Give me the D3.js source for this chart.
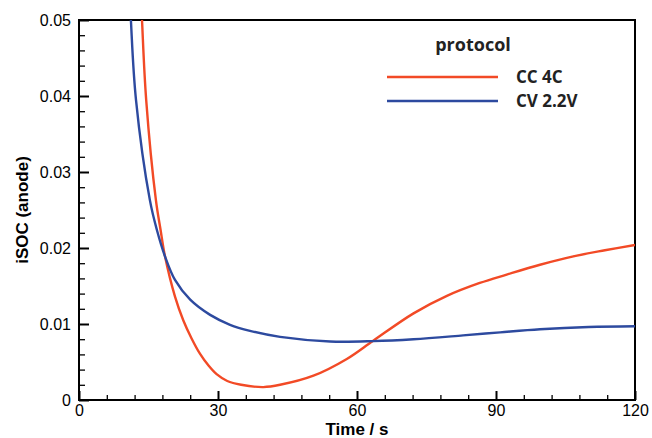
<!DOCTYPE html>
<html>
<head>
<meta charset="utf-8">
<script src="https://cdn.jsdelivr.net/npm/d3@7"></script>
<style>
  body { margin: 0; background: #fff; }
  text { font-family: "Liberation Sans", Arial, sans-serif; }
</style>
</head>
<body>
<div id="chart-area"></div>
<script>
// data
var seriesNames = ["CC 4C", "CV 2.2V"];
var ccTime = [12.8, 13.6, 14.5, 16.6, 17.6, 18.56, 20.72, 22.5, 24.3, 26.1, 28, 29.7, 32, 35, 39.8, 43.4, 50.6, 57.8, 63.5, 72.2, 79.4, 86.5, 92.3, 99.5, 106.7, 113.5, 120];
var ccValue = [0.062, 0.05, 0.0395, 0.0263, 0.0224, 0.0189, 0.0136, 0.0105, 0.0081, 0.0061, 0.0045, 0.0034, 0.0025, 0.002, 0.0017, 0.002, 0.0032, 0.0054, 0.0078, 0.0114, 0.0137, 0.0154, 0.0165, 0.0178, 0.0189, 0.0197, 0.0204];
var cvTime = [10.4, 11.2, 12.3, 15.3, 16.8, 18.56, 20.72, 24, 28.3, 32.6, 36.9, 43.4, 54.2, 63.5, 72.2, 82.9, 90.9, 99.5, 110, 120];
var cvValue = [0.062, 0.05, 0.0395, 0.0263, 0.0224, 0.0189, 0.0158, 0.0132, 0.0112, 0.0099, 0.0091, 0.0083, 0.0077, 0.00775, 0.008, 0.0085, 0.0089, 0.0093, 0.0096, 0.0097];
var xTicks = [0, 30, 60, 90, 120];
var yTicks = [0, 0.01, 0.02, 0.03, 0.04, 0.05];
var colors = ["#f24a26", "#2d4a9f"];

var margin = { left: 79, right: 17, top: 20, bottom: 38 };
var width = 652 - margin.left - margin.right,
    height = 438 - margin.top - margin.bottom;

var svg = d3.select("#chart-area").append("svg")
    .attr("width", 652)
    .attr("height", 438);

var g = svg.append("g").attr("transform", "translate(" + margin.left + ", " + margin.top + ")");

var x = d3.scaleLinear().domain([0, 120]).range([0, width]);
var y = d3.scaleLinear().domain([0, 0.05]).range([height, 0]);

svg.append("defs").append("clipPath").attr("id", "clip")
  .append("rect").attr("width", width).attr("height", height);

// minor ticks
var minorX = d3.range(0, 121, 6).filter(function(d) { return d % 30 != 0; });
var minorY = d3.range(0, 0.0501, 0.002).filter(function(d) { return Math.abs(d * 100 - Math.round(d * 100)) > 1e-6; });

g.append("g")
    .attr("transform", "translate(0, " + height + ")")
    .call(d3.axisBottom(x).tickValues(minorX).tickSize(-5).tickFormat(""))
    .call(function(a) { a.select(".domain").remove(); a.selectAll("line").attr("stroke-width", 1.3); });
g.append("g")
    .call(d3.axisLeft(y).tickValues(minorY).tickSize(-6).tickFormat(""))
    .call(function(a) { a.select(".domain").remove(); a.selectAll("line").attr("stroke-width", 1.3); });

// major ticks
var bottomAxis = d3.axisBottom(x).tickValues(xTicks).tickSize(-9).tickPadding(5).tickFormat(d3.format("d"));
g.append("g")
    .attr("class", "x axis")
    .attr("transform", "translate(0, " + height + ")")
    .call(bottomAxis)
    .call(function(a) {
        a.select(".domain").remove();
        a.selectAll("line").attr("stroke-width", 2);
        a.selectAll("text").attr("font-size", "16px").attr("fill", "#000");
    });

var leftAxis = d3.axisLeft(y).tickValues(yTicks).tickSize(-10).tickPadding(8)
    .tickFormat(function(d) { return d == 0 ? "0" : d3.format(".2f")(d); });
g.append("g")
    .attr("class", "y axis")
    .call(leftAxis)
    .call(function(a) {
        a.select(".domain").remove();
        a.selectAll("line").attr("stroke-width", 2);
        a.selectAll("text").attr("font-size", "16px").attr("fill", "#000");
    });

// frame
g.append("rect")
    .attr("width", width)
    .attr("height", height)
    .attr("fill", "none")
    .attr("stroke", "#000")
    .attr("stroke-width", 2);

// curves
var line = d3.line()
    .x(function(d) { return x(d[0]); })
    .y(function(d) { return y(d[1]); })
    .curve(d3.curveCatmullRom.alpha(0.5));

var series = [
    d3.zip(ccTime, ccValue),
    d3.zip(cvTime, cvValue)
];

var curves = g.append("g").attr("clip-path", "url(#clip)");
series.forEach(function(s, i) {
    curves.append("path")
        .datum(s)
        .attr("fill", "none")
        .attr("stroke", colors[i])
        .attr("stroke-width", 2.4)
        .attr("d", line);
});

// X Label
svg.append("text")
    .attr("x", 357)
    .attr("y", 435)
    .attr("font-size", "17px")
    .attr("font-weight", "bold")
    .attr("text-anchor", "middle")
    .text("Time / s");
// Y Label
svg.append("text")
    .attr("x", -210)
    .attr("y", 28)
    .attr("font-size", "17px")
    .attr("font-weight", "bold")
    .attr("text-anchor", "middle")
    .attr("transform", "rotate(-90)")
    .text("iSOC (anode)");

// legend
var legend = svg.append("g");
legend.append("text")
    .attr("x", 473)
    .attr("y", 51)
    .attr("font-size", "18px")
    .attr("font-weight", "bold")
    .attr("text-anchor", "middle")
    .style("font-family", "'Open Sans', sans-serif")
    .attr("fill", "#222")
    .text("protocol");
seriesNames.forEach(function(name, i) {
    var row = legend.append("g").attr("transform", "translate(0, " + (77 + i * 24) + ")");
    row.append("line")
        .attr("x1", 387).attr("x2", 498)
        .attr("stroke", colors[i])
        .attr("stroke-width", 2.4);
    row.append("text")
        .attr("x", 516)
        .attr("y", 6)
        .attr("font-size", "17px")
        .attr("font-weight", "bold")
        .style("font-family", "'Open Sans', sans-serif")
        .attr("fill", "#222")
        .text(name);
});
</script>
</body>
</html>
